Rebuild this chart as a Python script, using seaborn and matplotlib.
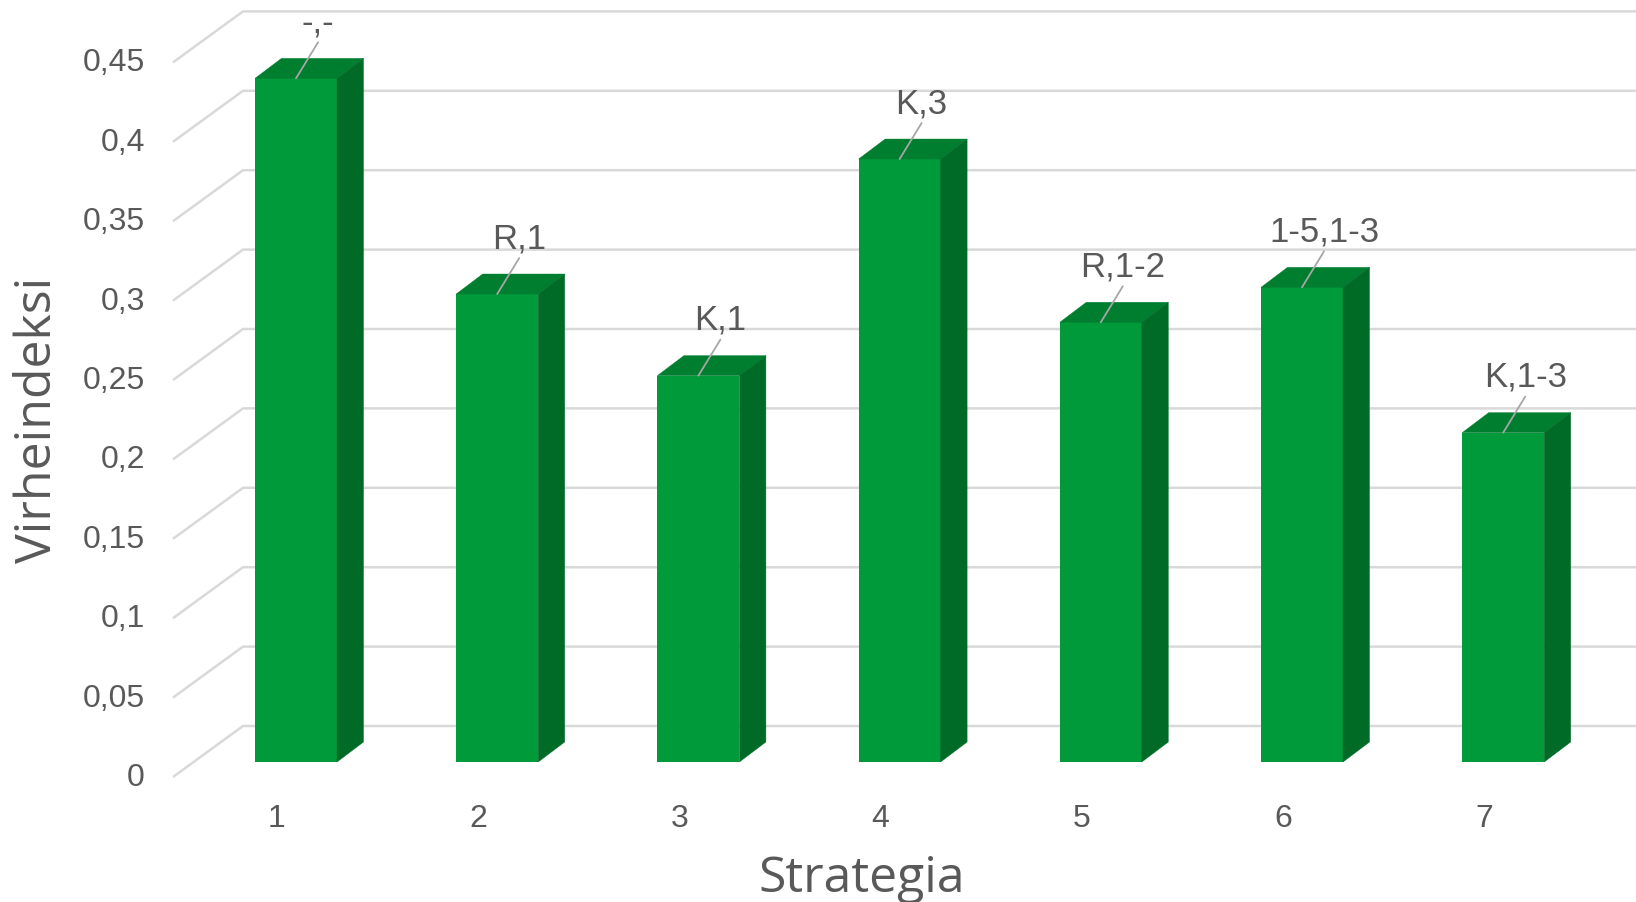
import numpy as np
import pandas as pd
import matplotlib
matplotlib.use("Agg")
import matplotlib.pyplot as plt
from matplotlib.patches import Polygon
import seaborn as sns

# ---- data ----
categories = ["1", "2", "3", "4", "5", "6", "7"]
values = [0.4305, 0.2947, 0.2433, 0.3797, 0.2769, 0.2989, 0.2074]
bar_labels = ["-,-", "R,1", "K,1", "K,3", "R,1-2", "1-5,1-3", "K,1-3"]
y_ticks = [0, 0.05, 0.1, 0.15, 0.2, 0.25, 0.3, 0.35, 0.4, 0.45]
y_tick_labels = ["0", "0,05", "0,1", "0,15", "0,2", "0,25", "0,3", "0,35", "0,4", "0,45"]
x_title = "Strategia"
y_title = "Virheindeksi"

# ---- styling ----
sns.set_style("white")
plt.rcParams["font.family"] = ["Liberation Sans", "DejaVu Sans"]
FRONT = "#009A3B"
TOP = "#007E30"
SIDE = "#006A27"
GRID = "#D9D9D9"
TXT = "#595959"
LEAD = "#A6A6A6"

W_PX, H_PX = 1636, 903
fig = plt.figure(figsize=(W_PX / 100, H_PX / 100), dpi=100)
ax = fig.add_axes([0, 0, 1, 1])

# pixel geometry of the oblique projection
X0, DXC = 296.0, 201.2        # px of first bar centre, px per category
Y0, PPU = 763.0, 1588.0       # px of bar base, px per value unit
px_x = lambda dx: dx / DXC
px_y = lambda dy: dy / PPU

df = pd.DataFrame({"Strategia": categories, "Virheindeksi": values, "lab": bar_labels})
bar_w = px_x(82)
sns.barplot(data=df, x="Strategia", y="Virheindeksi", order=categories,
            color=FRONT, saturation=1, width=bar_w, edgecolor="none",
            linewidth=0, errorbar=None, ax=ax, zorder=3)

ax.set_xlim(-X0 / DXC, (W_PX - X0) / DXC)
ax.set_ylim((Y0 - H_PX) / PPU, Y0 / PPU)
ax.axis("off")

# depth vectors (data units)
front_dy = px_y(-15)          # label plane relative to bar face
back_dy = px_y(36)            # back wall relative to bar face
bar_ddx, bar_ddy = px_x(26.5), px_y(20)

# back wall / side gridlines
left_front_x = px_x(173 - X0)
left_back_x = px_x(243 - X0)
x_right = (W_PX - X0) / DXC
for v, lab in zip(y_ticks, y_tick_labels):
    yf = v + front_dy
    yb = v + back_dy
    ax.plot([left_front_x, left_back_x, x_right], [yf, yb, yb],
            color=GRID, lw=1.8, zorder=1, solid_capstyle="butt")
    ax.text(px_x(145 - X0), yf, lab, ha="right", va="center",
            fontsize=23, color=TXT)

# 3D faces built from seaborn's bar patches
for p in ax.patches[:len(values)]:
    x0 = p.get_x()
    x1 = x0 + p.get_width()
    h = p.get_height()
    top = Polygon([(x0, h), (x1, h), (x1 + bar_ddx, h + bar_ddy), (x0 + bar_ddx, h + bar_ddy)],
                  closed=True, facecolor=TOP, edgecolor=TOP, lw=0.3, zorder=3)
    side = Polygon([(x1, 0), (x1, h), (x1 + bar_ddx, h + bar_ddy), (x1 + bar_ddx, bar_ddy)],
                   closed=True, facecolor=SIDE, edgecolor=SIDE, lw=0.3, zorder=3)
    ax.add_patch(top)
    ax.add_patch(side)

# data labels with leader lines
for i, (v, lab) in enumerate(zip(values, bar_labels)):
    ax.annotate("", xy=(i, v), xytext=(22 * 0.72, 36 * 0.72), textcoords="offset points",
                arrowprops=dict(arrowstyle="-", color=LEAD, lw=1.3, shrinkA=0, shrinkB=0),
                zorder=4)
    ax.annotate(lab, xy=(i, v), xytext=(22 * 0.72, 40 * 0.72), textcoords="offset points",
                ha="center", va="bottom", fontsize=25, color=TXT, zorder=5)

# category labels
for i, c in enumerate(categories):
    ax.text(i + px_x(-19), px_y(Y0 - 819), c, ha="center", va="center",
            fontsize=23, color=TXT)

# axis titles
ax.text(px_x(862 - X0), px_y(Y0 - 892), x_title, ha="center", va="baseline",
        fontsize=36, color=TXT, family=["Open Sans", "DejaVu Sans"])
ax.text(px_x(38 - X0), px_y(Y0 - 420), y_title, ha="center", va="center",
        rotation=90, fontsize=36, color=TXT, family=["Open Sans", "DejaVu Sans"])

fig.savefig("out.png", dpi=100)
